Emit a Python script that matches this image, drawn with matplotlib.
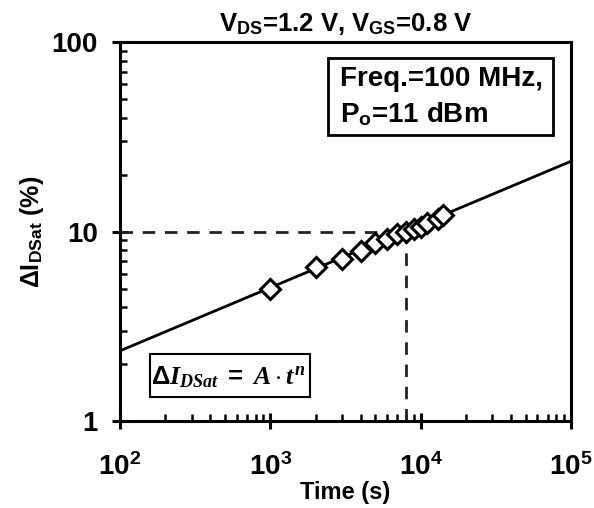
import numpy as np
import matplotlib
matplotlib.use('Agg')
import matplotlib.pyplot as plt
from matplotlib.ticker import LogLocator, NullFormatter
from matplotlib.patches import Rectangle

matplotlib.rcParams.update({'font.family': 'Liberation Sans', 'font.weight': 'bold',
                            'mathtext.fontset': 'custom',
                            'mathtext.rm': 'Liberation Sans:bold',
                            'mathtext.bf': 'Liberation Sans:bold',
                            'mathtext.sf': 'Liberation Sans:bold',
                            'mathtext.it': 'Liberation Serif:bold:italic'})

# measured points
t_meas = [1000, 2000, 3000, 4000, 5000, 6000, 7000, 8000, 9000, 10000, 11000, 13000, 14000]
di_meas = [5.0, 6.5, 7.2, 7.9, 8.7, 9.1, 9.7, 10.0, 10.3, 10.6, 11.1, 11.7, 12.2]
# power law fit
t_fit = [100, 100000]
di_fit = [2.35, 23.5]
# 10 % crossing
t_cross = 8000
di_cross = 10

xticks = [1e2, 1e3, 1e4, 1e5]
xlabels = [r'$\mathbf{10^{2}}$', r'$\mathbf{10^{3}}$', r'$\mathbf{10^{4}}$', r'$\mathbf{10^{5}}$']
yticks = [1, 10, 100]
ylabels = ['1', '10', '100']

fig = plt.figure(figsize=(5.94, 5.08), dpi=100)
ax = fig.add_axes([0.202, 0.171, 0.759, 0.746])

ax.plot(t_fit, di_fit, '-', color='black', lw=2)
ax.plot([100, t_cross], [di_cross, di_cross], '--', color='#222222', lw=2, dashes=(4.5, 3.5))
ax.plot([t_cross, t_cross], [1, di_cross], '--', color='#222222', lw=2, dashes=(4.5, 3.5))
ax.plot(t_meas, di_meas, 'D', ms=10, mfc='white', mec='black', mew=2.2, zorder=5)

ax.set_xscale('log')
ax.set_yscale('log')
ax.set_xlim(100, 1e5)
ax.set_ylim(1, 100)

ax.set_xticks(xticks)
ax.set_xticklabels(xlabels, fontsize=20)
ax.set_yticks(yticks)
ax.set_yticklabels(ylabels, fontsize=20, fontweight='bold')
ax.xaxis.set_minor_locator(LogLocator(base=10, subs=np.arange(2, 10), numticks=20))
ax.yaxis.set_minor_locator(LogLocator(base=10, subs=np.arange(2, 10), numticks=20))
ax.xaxis.set_minor_formatter(NullFormatter())
ax.yaxis.set_minor_formatter(NullFormatter())
ax.tick_params(which='major', direction='inout', length=12, width=2.2)
ax.tick_params(axis='x', which='major', pad=17)
ax.tick_params(axis='y', which='major', pad=10)
ax.tick_params(which='minor', direction='in', length=5, width=1.8)
ax.tick_params(top=False, right=False, which='both')
for s in ax.spines.values():
    s.set_linewidth(2.2)

ax.set_xlabel('Time (s)', fontsize=17, fontweight='bold', labelpad=0)
ax.set_ylabel(r'$\Delta$I$_{\mathsf{DSat}}$ (%)', fontsize=18, fontweight='bold', labelpad=4)
ax.set_title(r'V$_{\mathsf{DS}}$=1.2 V, V$_{\mathsf{GS}}$=0.8 V', fontsize=18.5, fontweight='bold', pad=8)

ax.add_patch(Rectangle((0.461, 0.755), 0.499, 0.203, transform=ax.transAxes,
                       fc='white', ec='black', lw=2, zorder=6))
ax.text(0.487, 0.855, 'Freq.=100 MHz,\nP$_{\\mathsf{o}}$=11 dBm', transform=ax.transAxes,
        ha='left', va='center', fontsize=20, fontweight='bold', linespacing=1.35, zorder=7)

ax.add_patch(Rectangle((0.0665, 0.063), 0.355, 0.114, transform=ax.transAxes,
                       fc='white', ec='black', lw=1.5, zorder=6))
ax.text(0.240, 0.117, r'$\Delta I_{DSat}\ =\ A\cdot t^{n}$', transform=ax.transAxes,
        ha='center', va='center', fontsize=18.5, zorder=7)

fig.savefig('out.png', dpi=100)
